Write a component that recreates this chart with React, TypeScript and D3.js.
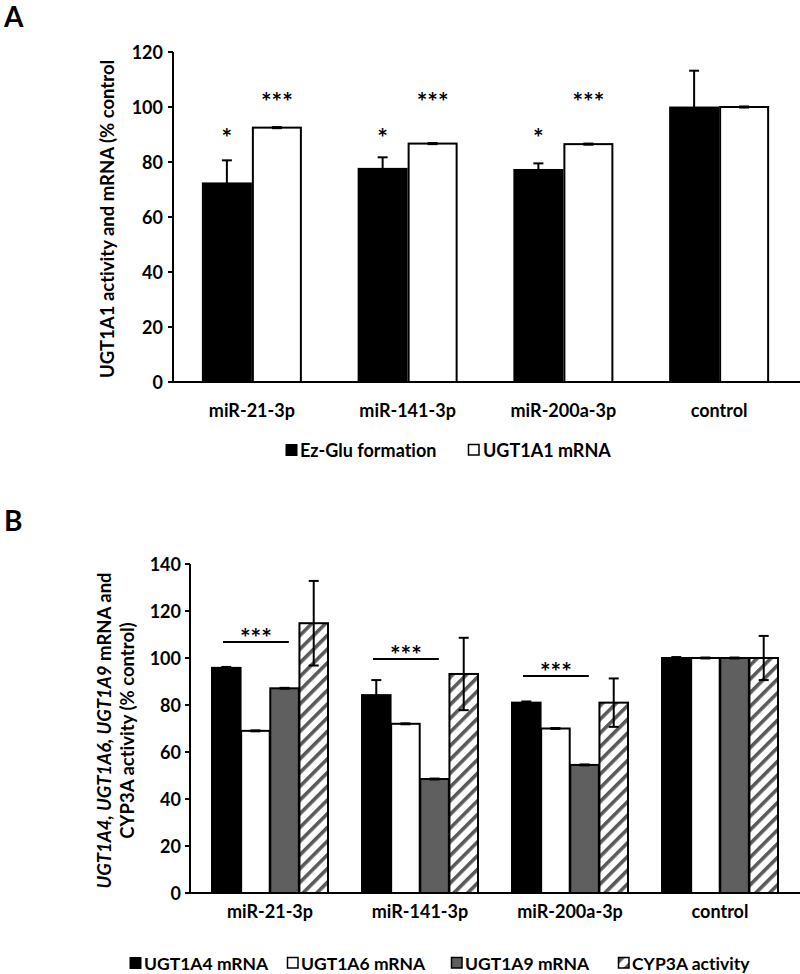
import React from "react";
import * as d3 from "d3";

const CATEGORIES = ["miR-21-3p", "miR-141-3p", "miR-200a-3p", "control"];

// Panel A
const A_SERIES = ["Ez-Glu formation", "UGT1A1 mRNA"];
const A_EZGLU = [72.2, 77.5, 77.1, 99.8];
const A_EZGLU_ERR = [8.4, 4.2, 2.4, 13.4];
const A_MRNA = [92.5, 86.7, 86.5, 100];
const A_MRNA_ERR = [0.2, 0.2, 0.2, 0.2];
const A_SIG = [
  ["*", "***"],
  ["*", "***"],
  ["*", "***"],
  ["", ""],
];
const A_TICKS = [0, 20, 40, 60, 80, 100, 120];

// Panel B
const B_SERIES = ["UGT1A4 mRNA", "UGT1A6 mRNA", "UGT1A9 mRNA", "CYP3A activity"];
const B_1A4 = [95.8, 84.2, 81.0, 100];
const B_1A4_ERR = [0.4, 6.4, 0.5, 0.4];
const B_1A6 = [69.0, 72.0, 70.0, 100];
const B_1A6_ERR = [0.2, 0.2, 0.2, 0.2];
const B_1A9 = [87.1, 48.5, 54.5, 100];
const B_1A9_ERR = [0.2, 0.2, 0.2, 0.2];
const B_CYP = [114.8, 93.2, 81.0, 100];
const B_CYP_ERR = [18.0, 15.4, 10.3, 9.4];
const B_SIG = ["***", "***", "***", ""];
const B_SIG_LEVEL = [106.8, 99.6, 92.3, 0];
const B_TICKS = [0, 20, 40, 60, 80, 100, 120, 140];

const FONT = "Lato, 'Open Sans', sans-serif";
const GRAY = "#5f5f5f";
const HATCH = "#595959";
const FS = 18;

export default function App() {
  const axA = 173;
  const xA = d3.scaleBand<string>().domain(CATEGORIES).range([174, 797]).padding(0);
  const groupWA = 98;
  const xAin = d3.scaleBand<string>().domain(A_SERIES).range([0, groupWA]).paddingInner(0.04);
  const yA = d3.scaleLinear().domain([0, 120]).range([382, 52]);

  const aData = [
    { name: A_SERIES[0], vals: A_EZGLU, errs: A_EZGLU_ERR, fill: "#000" },
    { name: A_SERIES[1], vals: A_MRNA, errs: A_MRNA_ERR, fill: "#fff" },
  ];

  const axB = 190;
  const xB = d3.scaleBand<string>().domain(CATEGORIES).range([195, 795]).padding(0);
  const groupWB = 116;
  const xBin = d3.scaleBand<string>().domain(B_SERIES).range([0, groupWB]).paddingInner(0.02);
  const yB = d3.scaleLinear().domain([0, 140]).range([893, 564]);

  const bData = [
    { name: B_SERIES[0], vals: B_1A4, errs: B_1A4_ERR, fill: "#000" },
    { name: B_SERIES[1], vals: B_1A6, errs: B_1A6_ERR, fill: "#fff" },
    { name: B_SERIES[2], vals: B_1A9, errs: B_1A9_ERR, fill: GRAY },
    { name: B_SERIES[3], vals: B_CYP, errs: B_CYP_ERR, fill: "url(#hatch)" },
  ];

  const errBar = (cx: number, y: (v: number) => number, v: number, e: number, key: string) => (
    <g key={key} stroke="#000" strokeWidth={2}>
      <line x1={cx} x2={cx} y1={y(v - e)} y2={y(v + e)} />
      <line x1={cx - 5} x2={cx + 5} y1={y(v + e)} y2={y(v + e)} />
      <line x1={cx - 5} x2={cx + 5} y1={y(v - e)} y2={y(v - e)} />
    </g>
  );

  return (
    <svg
      width={800}
      height={974}
      style={{ display: "block", position: "absolute", left: 0, top: 0, fontVariantLigatures: "none" }}
      fontFamily={FONT}
    >
      <defs>
        <pattern id="hatch" patternUnits="userSpaceOnUse" width={9.7} height={9.7} patternTransform="rotate(45)">
          <rect width={9.7} height={9.7} fill="#fff" />
          <rect x={0} y={0} width={3.6} height={9.7} fill={HATCH} />
        </pattern>
      </defs>
      <rect width={800} height={974} fill="#fff" />

      {/* ================= Panel A ================= */}
      <text x={4} y={27} fontSize={28} fontWeight="bold">A</text>

      <text
        transform={`translate(114,${(yA(0) + yA(120)) / 2 + 2}) rotate(-90)`}
        textAnchor="middle"
        fontSize={18.5}
        fontWeight="bold"
      >
        UGT1A1 activity and mRNA (% control
      </text>

      {CATEGORIES.map((c, i) => {
        const gx = xA(c)! + (xA.bandwidth() - groupWA) / 2;
        return (
          <g key={c}>
            {aData.map((s) => (
              <rect
                key={s.name}
                x={gx + xAin(s.name)!}
                y={yA(s.vals[i])}
                width={xAin.bandwidth()}
                height={yA(0) - yA(s.vals[i])}
                fill={s.fill}
                stroke="#000"
                strokeWidth={2}
              />
            ))}
            {aData.map((s) =>
              errBar(gx + xAin(s.name)! + xAin.bandwidth() / 2, yA, s.vals[i], s.errs[i], s.name + "e")
            )}
            {aData.map((s, k) =>
              A_SIG[i][k] ? (
                <text
                  key={s.name + "s"}
                  x={gx + xAin(s.name)! + xAin.bandwidth() / 2}
                  y={yA(k === 0 ? 85.5 : 98.7)}
                  textAnchor="middle"
                  fontSize={25}
                  fontWeight="bold"
                >
                  {A_SIG[i][k]}
                </text>
              ) : null
            )}
          </g>
        );
      })}

      <line x1={axA} x2={axA} y1={yA(120)} y2={yA(0)} stroke="#000" strokeWidth={2} />
      <line x1={axA - 1} x2={800} y1={yA(0)} y2={yA(0)} stroke="#000" strokeWidth={2} />
      {A_TICKS.map((t) => (
        <g key={t}>
          <line x1={axA - 5} x2={axA} y1={yA(t)} y2={yA(t)} stroke="#000" strokeWidth={2} />
          <text x={axA - 10} y={yA(t) + 6.5} textAnchor="end" fontSize={FS} fontWeight="bold">
            {t}
          </text>
        </g>
      ))}
      {CATEGORIES.map((c) => (
        <text key={c} x={xA(c)! + xA.bandwidth() / 2} y={417} textAnchor="middle" fontSize={FS} fontWeight="bold">
          {c}
        </text>
      ))}

      <g fontSize={FS} fontWeight="bold">
        <rect x={286} y={444.5} width={11} height={11} fill="#000" stroke="#000" strokeWidth={1} />
        <text x={300} y={456.5}>{A_SERIES[0]}</text>
        <rect x={468.5} y={444.5} width={10.5} height={10.5} fill="#fff" stroke="#000" strokeWidth={1.5} />
        <text x={483} y={456.5}>{A_SERIES[1]}</text>
      </g>

      {/* ================= Panel B ================= */}
      <text x={4} y={531} fontSize={28} fontWeight="bold">B</text>

      <g transform={`translate(0,${(yB(0) + yB(140)) / 2 + 2}) rotate(-90)`} fontSize={18.5} fontWeight="bold" textAnchor="middle">
        <text x={0} y={111}>
          <tspan fontStyle="italic">UGT1A4, UGT1A6, UGT1A9</tspan>
          <tspan> mRNA and</tspan>
        </text>
        <text x={0} y={134}>CYP3A activity (% control)</text>
      </g>

      {CATEGORIES.map((c, i) => {
        const gx = xB(c)! + (xB.bandwidth() - groupWB) / 2;
        const bw = xBin.bandwidth();
        const lineX1 = gx + xBin(B_SERIES[0])! + 11;
        const lineX2 = gx + xBin(B_SERIES[2])! + bw - 10;
        return (
          <g key={c}>
            {bData.map((s) => (
              <rect
                key={s.name}
                x={gx + xBin(s.name)!}
                y={yB(s.vals[i])}
                width={bw}
                height={yB(0) - yB(s.vals[i])}
                fill={s.fill}
                stroke="#000"
                strokeWidth={2}
              />
            ))}
            {bData.map((s) => errBar(gx + xBin(s.name)! + bw / 2, yB, s.vals[i], s.errs[i], s.name + "e"))}
            {B_SIG[i] ? (
              <g>
                <line x1={lineX1} x2={lineX2} y1={yB(B_SIG_LEVEL[i])} y2={yB(B_SIG_LEVEL[i])} stroke="#000" strokeWidth={2} />
                <text x={(lineX1 + lineX2) / 2} y={yB(B_SIG_LEVEL[i]) + 5} textAnchor="middle" fontSize={25} fontWeight="bold">
                  {B_SIG[i]}
                </text>
              </g>
            ) : null}
          </g>
        );
      })}

      <line x1={axB} x2={axB} y1={yB(140)} y2={yB(0)} stroke="#000" strokeWidth={2} />
      <line x1={axB - 1} x2={800} y1={yB(0)} y2={yB(0)} stroke="#000" strokeWidth={2} />
      {B_TICKS.map((t) => (
        <g key={t}>
          <line x1={axB - 5} x2={axB} y1={yB(t)} y2={yB(t)} stroke="#000" strokeWidth={2} />
          <text x={axB - 9} y={yB(t) + 6.5} textAnchor="end" fontSize={FS} fontWeight="bold">
            {t}
          </text>
        </g>
      ))}
      {CATEGORIES.map((c) => (
        <text key={c} x={xB(c)! + xB.bandwidth() / 2} y={918} textAnchor="middle" fontSize={FS} fontWeight="bold">
          {c}
        </text>
      ))}

      <g fontSize={17.5} fontWeight="bold">
        <rect x={130} y={957.5} width={11} height={11} fill="#000" stroke="#000" strokeWidth={1} />
        <text x={144} y={969.5}>{B_SERIES[0]}</text>
        <rect x={287.5} y={957.5} width={10.5} height={10.5} fill="#fff" stroke="#000" strokeWidth={1.5} />
        <text x={301} y={969.5}>{B_SERIES[1]}</text>
        <rect x={451.5} y={957.5} width={10.5} height={10.5} fill={GRAY} stroke="#000" strokeWidth={1.5} />
        <text x={465} y={969.5}>{B_SERIES[2]}</text>
        <rect x={618.5} y={957.5} width={10.5} height={10.5} fill="url(#hatch)" stroke="#000" strokeWidth={1.5} />
        <text x={632} y={969.5}>{B_SERIES[3]}</text>
      </g>
    </svg>
  );
}
